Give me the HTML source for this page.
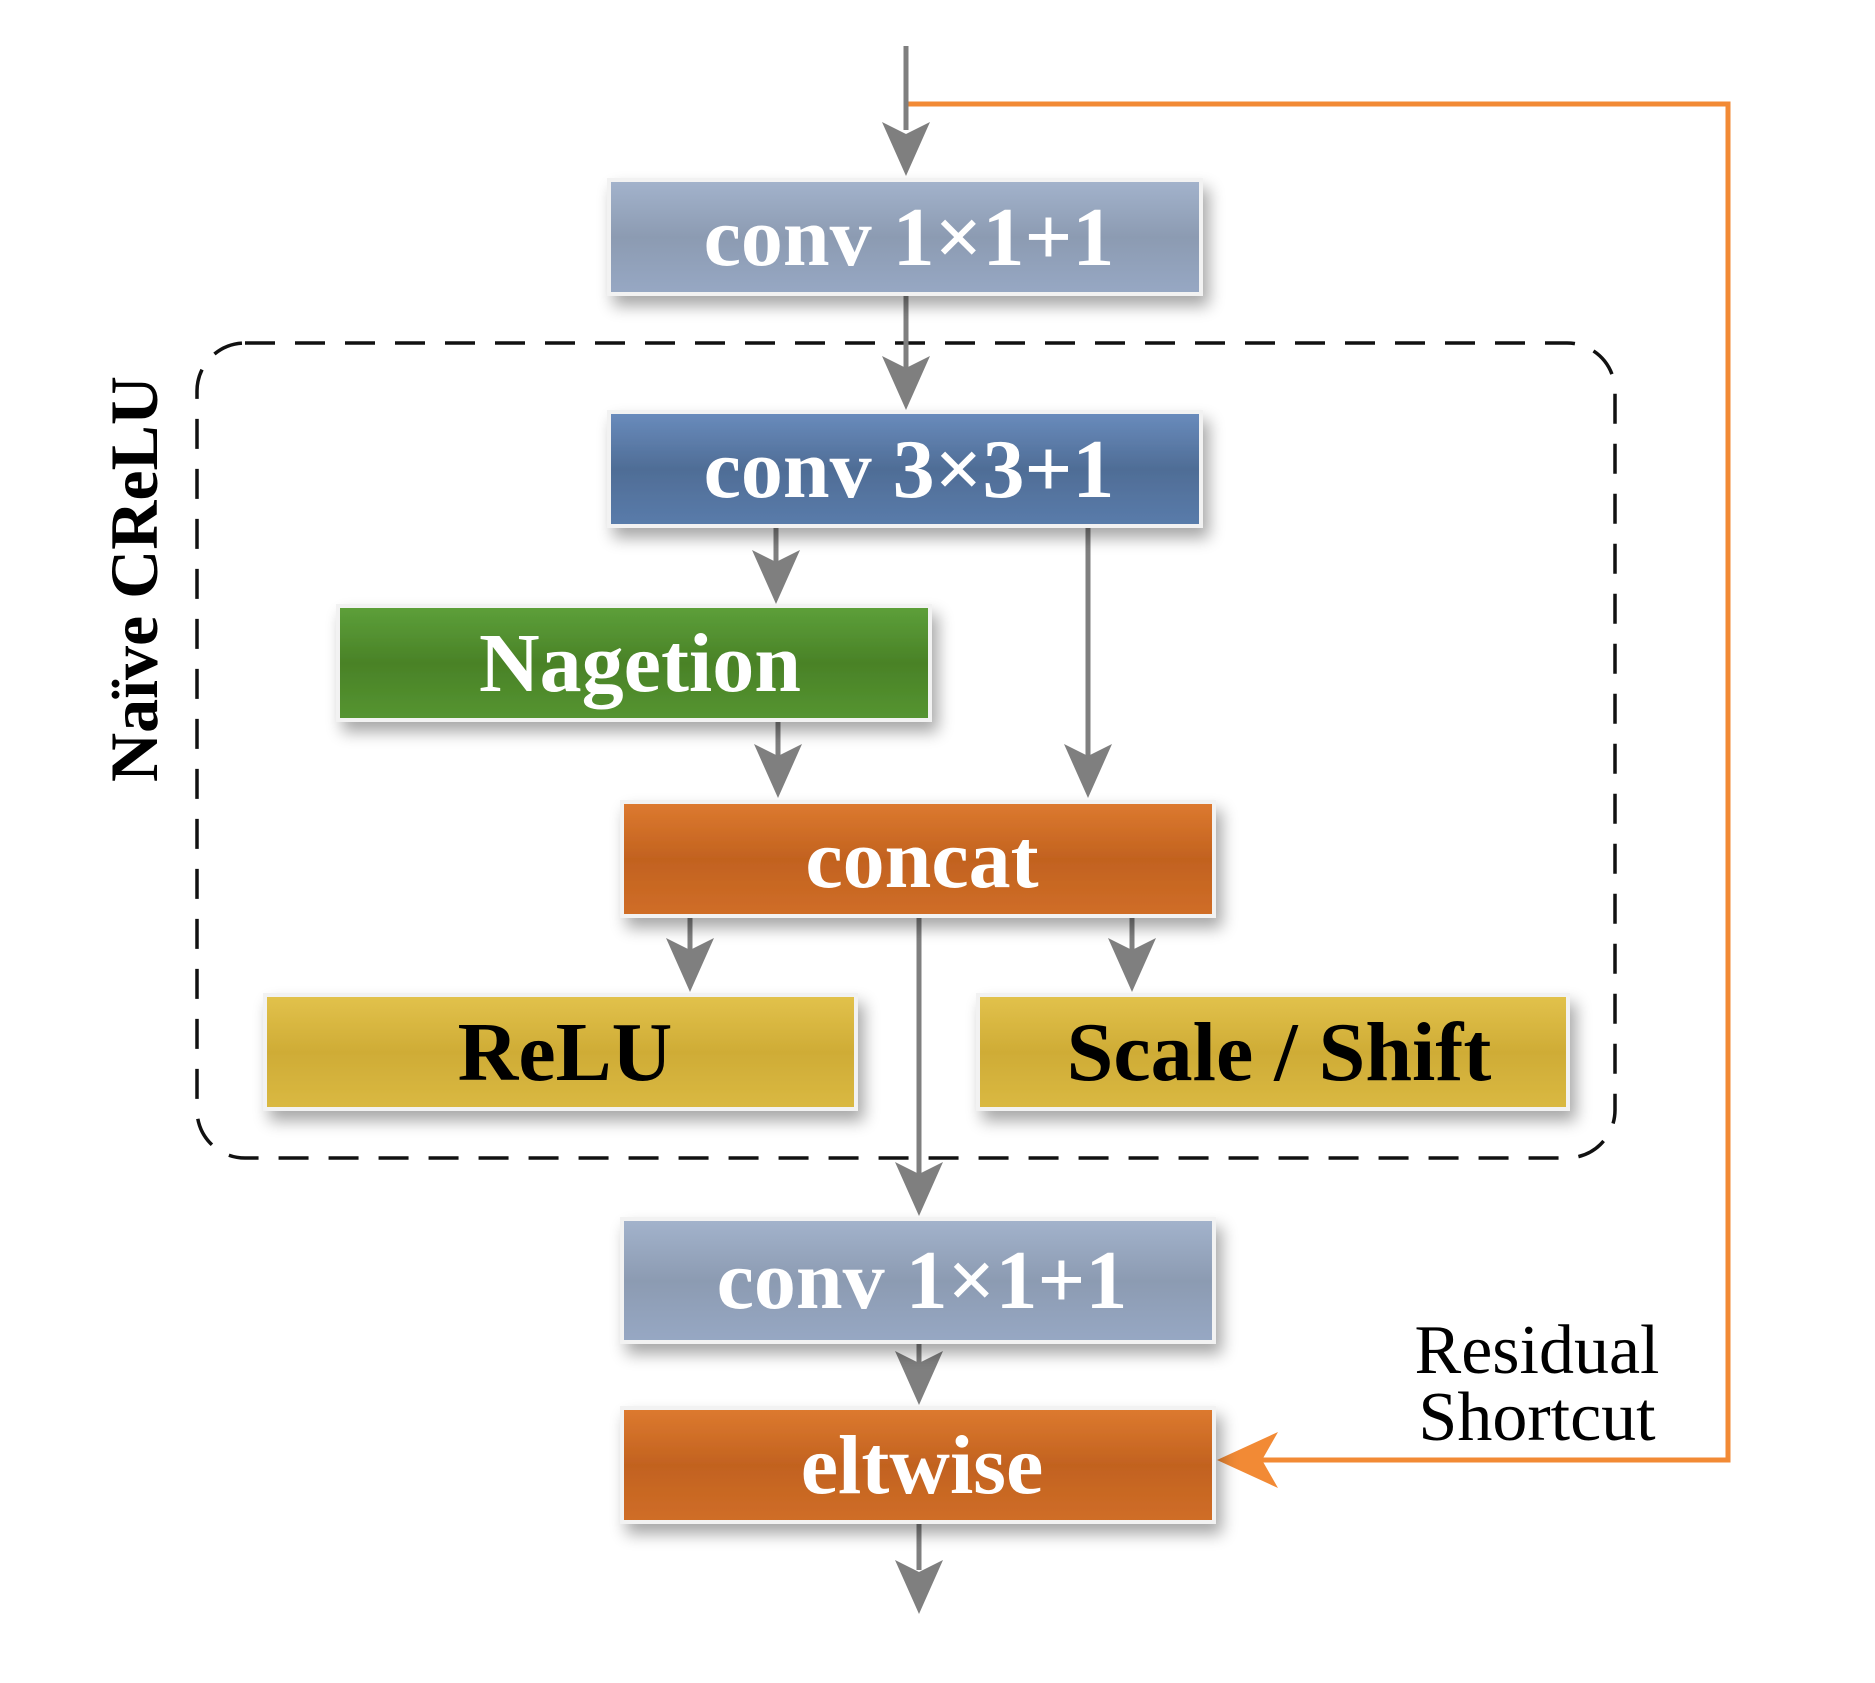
<!DOCTYPE html>
<html><head><meta charset="utf-8"><style>
html,body{margin:0;padding:0;background:#fff;}
svg{display:block;}
text{font-family:"Liberation Serif",serif;font-weight:bold;}
</style></head><body>
<svg width="1875" height="1683" viewBox="0 0 1875 1683" xmlns="http://www.w3.org/2000/svg">
<defs>
<filter id="sh" x="-10%" y="-30%" width="120%" height="160%">
<feGaussianBlur in="SourceAlpha" stdDeviation="8"/>
<feOffset dx="6" dy="10"/>
<feComponentTransfer><feFuncA type="linear" slope="0.35"/></feComponentTransfer>
<feMerge><feMergeNode/><feMergeNode in="SourceGraphic"/></feMerge>
</filter>
<linearGradient id="g1" x1="0" y1="0" x2="0" y2="1"><stop offset="0" stop-color="#a3b3cc"/><stop offset="0.5" stop-color="#8c9bb2"/><stop offset="1" stop-color="#97a8c4"/></linearGradient>
<linearGradient id="g2" x1="0" y1="0" x2="0" y2="1"><stop offset="0" stop-color="#6a8cbd"/><stop offset="0.5" stop-color="#4f6d96"/><stop offset="1" stop-color="#5a7cab"/></linearGradient>
<linearGradient id="g3" x1="0" y1="0" x2="0" y2="1"><stop offset="0" stop-color="#5da03a"/><stop offset="0.5" stop-color="#4a8227"/><stop offset="1" stop-color="#559531"/></linearGradient>
<linearGradient id="g4" x1="0" y1="0" x2="0" y2="1"><stop offset="0" stop-color="#dd7a30"/><stop offset="0.5" stop-color="#c2621f"/><stop offset="1" stop-color="#d06e28"/></linearGradient>
<linearGradient id="g5" x1="0" y1="0" x2="0" y2="1"><stop offset="0" stop-color="#e2c24c"/><stop offset="0.5" stop-color="#cfac36"/><stop offset="1" stop-color="#dab942"/></linearGradient>
</defs>
<g transform="translate(-4,0)">
<rect x="201" y="343" width="1418" height="815" rx="48" ry="48" fill="none" stroke="#111" stroke-width="3.5" stroke-dasharray="30 20"/>
<text transform="translate(161,579) rotate(-90)" text-anchor="middle" font-size="68" fill="#000">Naïve CReLU</text>

<polyline points="910,104 1732,104 1732,1460 1262,1460" fill="none" stroke="#f28a35" stroke-width="5"/>
<path d="M1221,1460 L1282,1432 L1266,1460 L1282,1488 z" fill="#f28a35"/>

<g stroke="#7f7f7f" stroke-width="5" fill="none">
<line x1="910" y1="46" x2="910" y2="130"/>
<line x1="910" y1="294" x2="910" y2="370"/>
<line x1="780" y1="526" x2="780" y2="565"/>
<line x1="1092" y1="526" x2="1092" y2="760"/>
<line x1="782" y1="720" x2="782" y2="760"/>
<line x1="694" y1="916" x2="694" y2="953"/>
<line x1="1136" y1="916" x2="1136" y2="953"/>
<line x1="923" y1="916" x2="923" y2="1180"/>
<line x1="923" y1="1342" x2="923" y2="1370"/>
<line x1="923" y1="1522" x2="923" y2="1570"/>
</g>
<g fill="#7f7f7f">
<path d="M910,176 L886,122 L910,134 L934,122 z"/>
<path d="M910,410 L886,356 L910,368 L934,356 z"/>
<path d="M780,604 L756,550 L780,562 L804,550 z"/>
<path d="M1092,798 L1068,744 L1092,756 L1116,744 z"/>
<path d="M782,798 L758,744 L782,756 L806,744 z"/>
<path d="M694,992 L670,938 L694,950 L718,938 z"/>
<path d="M1136,992 L1112,938 L1136,950 L1160,938 z"/>
<path d="M923,1216 L899,1162 L923,1174 L947,1162 z"/>
<path d="M923,1405 L899,1351 L923,1363 L947,1351 z"/>
<path d="M923,1614 L899,1560 L923,1572 L947,1560 z"/>
</g>

<g filter="url(#sh)" stroke="#f2f2f2" stroke-width="4">
<rect x="613" y="180" width="592" height="114" fill="url(#g1)"/>
<rect x="613" y="412" width="592" height="114" fill="url(#g2)"/>
<rect x="342" y="606" width="592" height="114" fill="url(#g3)"/>
<rect x="626" y="802" width="592" height="114" fill="url(#g4)"/>
<rect x="269" y="995" width="591" height="114" fill="url(#g5)"/>
<rect x="982" y="995" width="590" height="114" fill="url(#g5)"/>
<rect x="626" y="1219" width="592" height="123" fill="url(#g1)"/>
<rect x="626" y="1408" width="592" height="114" fill="url(#g4)"/>
</g>

<g font-size="84" text-anchor="middle">
<text x="913" y="265" fill="#fff">conv 1×1+1</text>
<text x="913" y="497" fill="#fff">conv 3×3+1</text>
<text x="644" y="691" fill="#fff">Nagetion</text>
<text x="926" y="887" fill="#fff">concat</text>
<text x="569" y="1080" fill="#000">ReLU</text>
<text x="1283" y="1080" fill="#000">Scale / Shift</text>
<text x="926" y="1308" fill="#fff">conv 1×1+1</text>
<text x="926" y="1493" fill="#fff">eltwise</text>
</g>

<text x="1541" y="1373" text-anchor="middle" font-size="70" style="font-weight:normal" fill="#000">Residual</text>
<text x="1541" y="1440" text-anchor="middle" font-size="70" style="font-weight:normal" fill="#000">Shortcut</text>
</g>
</svg>
</body></html>
